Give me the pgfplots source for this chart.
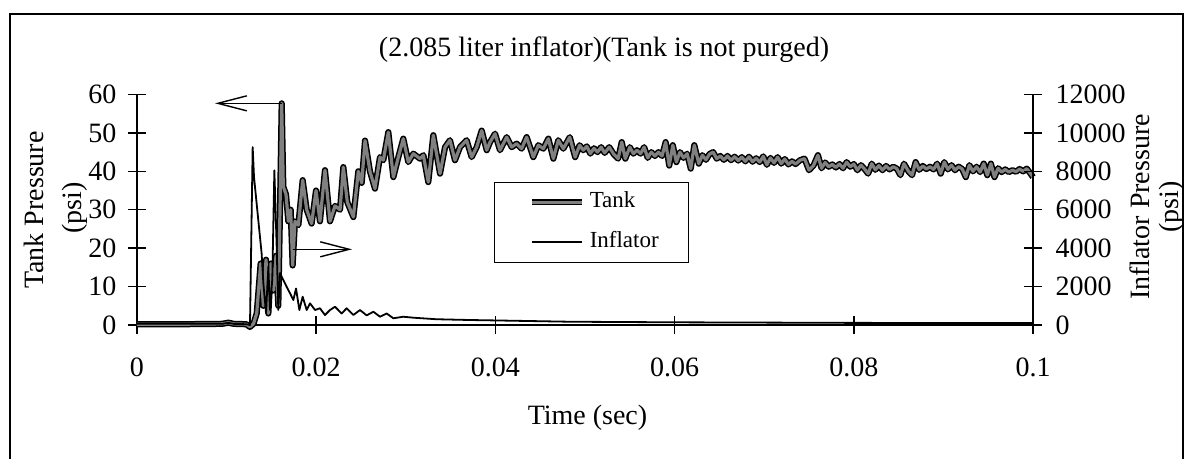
\documentclass[border=0pt]{standalone}
\usepackage{fontspec}
\setmainfont{Liberation Serif}
\usepackage{pgfplots}
\pgfplotsset{compat=1.18}
\usetikzlibrary{arrows.meta}

\newcommand{\chartfont}{\fontsize{14}{16.8}\selectfont}

\pgfplotsset{
  pressure axis/.style={
    scale only axis, width=448pt, height=115.25pt,
    xmin=0, xmax=0.1, clip=false,
    tick align=center, major tick length=9pt,
    tick style={line width=0.7pt, black},
    tick label style={font=\chartfont},
    /pgf/number format/assume math mode=true,
  },
  no arrows/.style={
    axis line style={-, line width=0.8pt},
    every outer x axis line/.append style={-},
    every outer y axis line/.append style={-},
    every inner x axis line/.append style={-},
    every inner y axis line/.append style={-},
  },
  tank/.style={draw=black, line width=0.75pt, double=black!50, double distance=1.6pt, line join=round},
  inflator/.style={draw=black, line width=0.9pt, line join=round},
}

\begin{document}
\begin{tikzpicture}
\begin{axis}[pressure axis, name=ax1,
  axis x line=bottom, axis y line=left, no arrows,
  ymin=0, ymax=60, ytick={0,10,20,30,40,50,60},
  xtick={0,0.02,0.04,0.06,0.08,0.1},
  xticklabels={0,0.02,0.04,0.06,0.08,0.1},
  yticklabel style={xshift=-2.3pt},
  xticklabel style={anchor=center, yshift=-16.75pt},
  legend style={at={(0.3984,0.6217)}, anchor=north west, draw=black, line width=0.6pt,
    fill=white, font=\fontsize{11.5}{13.8}\selectfont,
    inner xsep=12.5pt, inner ysep=4.75pt, row sep=9.5pt,
    nodes={inner xsep=2.5pt, inner ysep=0pt, text height=8pt, text depth=2.5pt}},
  legend cell align=left,
  legend image code/.code={\path (-4.5pt,0pt); \draw[#1] (0pt,0pt) -- (25pt,0pt);},
]
% tank pressure, psi
\addplot[tank] coordinates {
(0,0.2) (0.005,0.2) (0.0095,0.3) (0.0102,0.6) (0.0108,0.3) (0.0122,0.2) (0.0126,-0.5) (0.0130,0.3)
(0.01336,3) (0.01380,16) (0.01410,5) (0.01440,17) (0.01466,3) (0.01496,16) (0.01522,9) (0.01551,18)
(0.01577,5) (0.01596,30) (0.01615,57.7) (0.01633,36) (0.01663,34) (0.01689,27) (0.01715,30) (0.01737,15.5)
(0.01763,27) (0.01801,26) (0.01849,37.7) (0.01894,30) (0.01949,26.4) (0.01998,35) (0.02042,27) (0.02098,40.3)
(0.02154,27) (0.02210,31) (0.02266,30) (0.02303,41.1) (0.02347,32) (0.02415,28.1) (0.02470,40) (0.02508,37)
(0.02545,48) (0.02600,40) (0.02656,35.5) (0.02712,43.7) (0.02749,42.9) (0.02805,50.2) (0.02861,38.5) (0.02917,43.7)
(0.02972,48.5) (0.03028,42.4) (0.03084,44.6) (0.03158,43.3) (0.03196,44.2) (0.03251,37.2) (0.03307,49.4) (0.03382,39.4)
(0.03438,46.3) (0.03493,48.1) (0.03549,42.9) (0.03605,46.3) (0.03679,48.1) (0.03735,43.7) (0.03791,46.3) (0.03847,50.6)
(0.03903,45.5) (0.03940,47.6) (0.03996,49.8) (0.04051,45.5) (0.04126,48.9) (0.04182,46.3) (0.04237,47.2) (0.04293,45.9)
(0.04349,48.9) (0.04423,43.7) (0.04479,46.8) (0.04535,45.9) (0.04591,48.5) (0.04647,43.3) (0.04702,48.1) (0.04758,45.9)
(0.0483,48.9) (0.0489,43.7) (0.0494,46.8) (0.0498,45.5) (0.0502,46.5) (0.0506,44.6) (0.0510,46.0) (0.0514,45.0)
(0.0518,46.3) (0.0522,44.8) (0.0527,46.3) (0.0532,44.5) (0.0537,43.3) (0.0541,47.6) (0.0545,43.3) (0.0550,46.3)
(0.0554,44.6) (0.0558,45.5) (0.0562,44.6) (0.0566,46.3) (0.0570,43.5) (0.0574,45.0) (0.0578,44.0) (0.0582,45.0)
(0.0586,44.0) (0.0590,47.6) (0.0594,41.5) (0.0598,46.8) (0.0602,42.4) (0.0606,45.0) (0.0610,43.5) (0.0614,44.6)
(0.0618,40.7) (0.0622,46.8) (0.0627,42.0) (0.0631,44.2) (0.0635,43.0) (0.0639,44.5) (0.0643,45.0) (0.0647,43.3)
(0.0651,44.0) (0.0655,43.0) (0.0659,44.0) (0.0663,42.9) (0.0667,43.8) (0.0671,42.8) (0.0675,43.7) (0.0679,42.6)
(0.0683,43.8) (0.0687,42.5) (0.0691,43.4) (0.0695,42.4) (0.0699,43.9) (0.0703,41.7) (0.0707,43.5) (0.0711,42.2)
(0.0715,43.7) (0.0719,42.0) (0.0723,43.2) (0.0727,41.8) (0.0731,42.6) (0.0735,41.9) (0.0740,42.9) (0.0745,43.3)
(0.0750,40.3) (0.0755,41.5) (0.0760,44.2) (0.0764,40.8) (0.0768,42.3) (0.0772,41.2) (0.0776,41.8) (0.0780,41.0)
(0.0784,41.9) (0.0788,40.8) (0.0792,42.4) (0.0796,41.2) (0.0800,41.9) (0.0804,40.3) (0.0808,41.6) (0.0812,40.6)
(0.0816,39.4) (0.0820,42.0) (0.0824,40.4) (0.0828,41.5) (0.0832,40.3) (0.0836,41.4) (0.0840,40.5) (0.0844,41.2)
(0.0848,40.7) (0.0852,39.0) (0.0856,42.0) (0.0861,40.0) (0.0865,39.0) (0.0869,42.4) (0.0873,40.4) (0.0877,41.4)
(0.0881,40.6) (0.0885,41.2) (0.0889,40.5) (0.0893,42.0) (0.0897,39.4) (0.0901,42.4) (0.0905,40.5) (0.0909,41.6)
(0.0913,40.3) (0.0917,41.2) (0.0921,40.6) (0.0925,38.5) (0.0929,41.6) (0.0933,40.0) (0.0937,41.2) (0.0941,39.8)
(0.0945,42.0) (0.0949,39.0) (0.0953,42.0) (0.0957,38.5) (0.0961,40.8) (0.0965,39.8) (0.0969,40.5) (0.0973,39.8)
(0.0977,40.3) (0.0981,39.9) (0.0985,40.6) (0.0989,40.0) (0.0993,40.7) (0.0997,39.5) (0.1000,38.5)
};
\addlegendentry{Tank}
\addlegendimage{inflator}
\addlegendentry{Inflator}

% arrows that point each curve to its axis
\draw[line width=0.7pt, -{Straight Barb[length=14.5pt,width=7.5pt]}] (axis cs:0.01615,57.7) -- (axis cs:0.00871,57.7);
\draw[line width=0.7pt, -{Straight Barb[length=14.5pt,width=7.5pt]}] (axis cs:0.01741,19.7) -- (axis cs:0.0240,19.7);
\end{axis}

\begin{axis}[pressure axis,
  axis x line=none, axis y line=right, no arrows,
  ymin=0, ymax=12000, ytick={0,2000,4000,6000,8000,10000,12000},
  scaled y ticks=false,
  yticklabel style={/pgf/number format/set thousands separator={}, xshift=3.3pt},
]
% inflator pressure, psi
\addplot[inflator] coordinates {
(0,60) (0.005,60) (0.0095,60) (0.0102,110) (0.0108,60) (0.0122,40) (0.01261,0) (0.01291,9260)
(0.01306,7700) (0.01354,5450) (0.01391,3720) (0.01410,2180) (0.01440,620) (0.01466,3030) (0.01484,780) (0.01510,2400)
(0.01533,8050) (0.01559,4070) (0.01577,780) (0.01596,2700) (0.01633,2340) (0.01670,1990) (0.01708,1650) (0.01745,1300)
(0.01775,1900) (0.01812,780) (0.01849,1470) (0.01894,780) (0.01931,1130) (0.01987,780) (0.02042,870) (0.02098,520)
(0.02154,780) (0.02210,950) (0.02284,600) (0.02340,870) (0.02415,520) (0.02489,780) (0.02563,500) (0.02638,690)
(0.02712,430) (0.02786,600) (0.02861,350) (0.02972,430) (0.03084,380) (0.0334,300) (0.0371,260) (0.0409,230)
(0.0483,170) (0.060,140) (0.080,110) (0.1,100)
};
\end{axis}

\begin{scope}[shift={(ax1.south west)}]
\node[font=\chartfont, anchor=base] at (233.5pt,134pt) {(2.085 liter inflator)(Tank is not purged)};
\node[font=\chartfont] at (225.25pt,-46.25pt) {Time (sec)};
\node[font=\chartfont, rotate=90] at (-51.5pt,57.5pt) {Tank Pressure};
\node[font=\chartfont, rotate=90] at (-31pt,58.5pt) {(psi)};
\node[font=\chartfont, rotate=90] at (501.5pt,59pt) {Inflator Pressure};
\node[font=\chartfont, rotate=90] at (517.5pt,59pt) {(psi)};
\draw[line width=0.8pt] (-63.5pt,-80pt) rectangle (523pt,155.5pt);
\pgfresetboundingbox
\path[use as bounding box] (-68.5pt,-67pt) rectangle (526pt,162.5pt);
\end{scope}
\end{tikzpicture}
\end{document}
